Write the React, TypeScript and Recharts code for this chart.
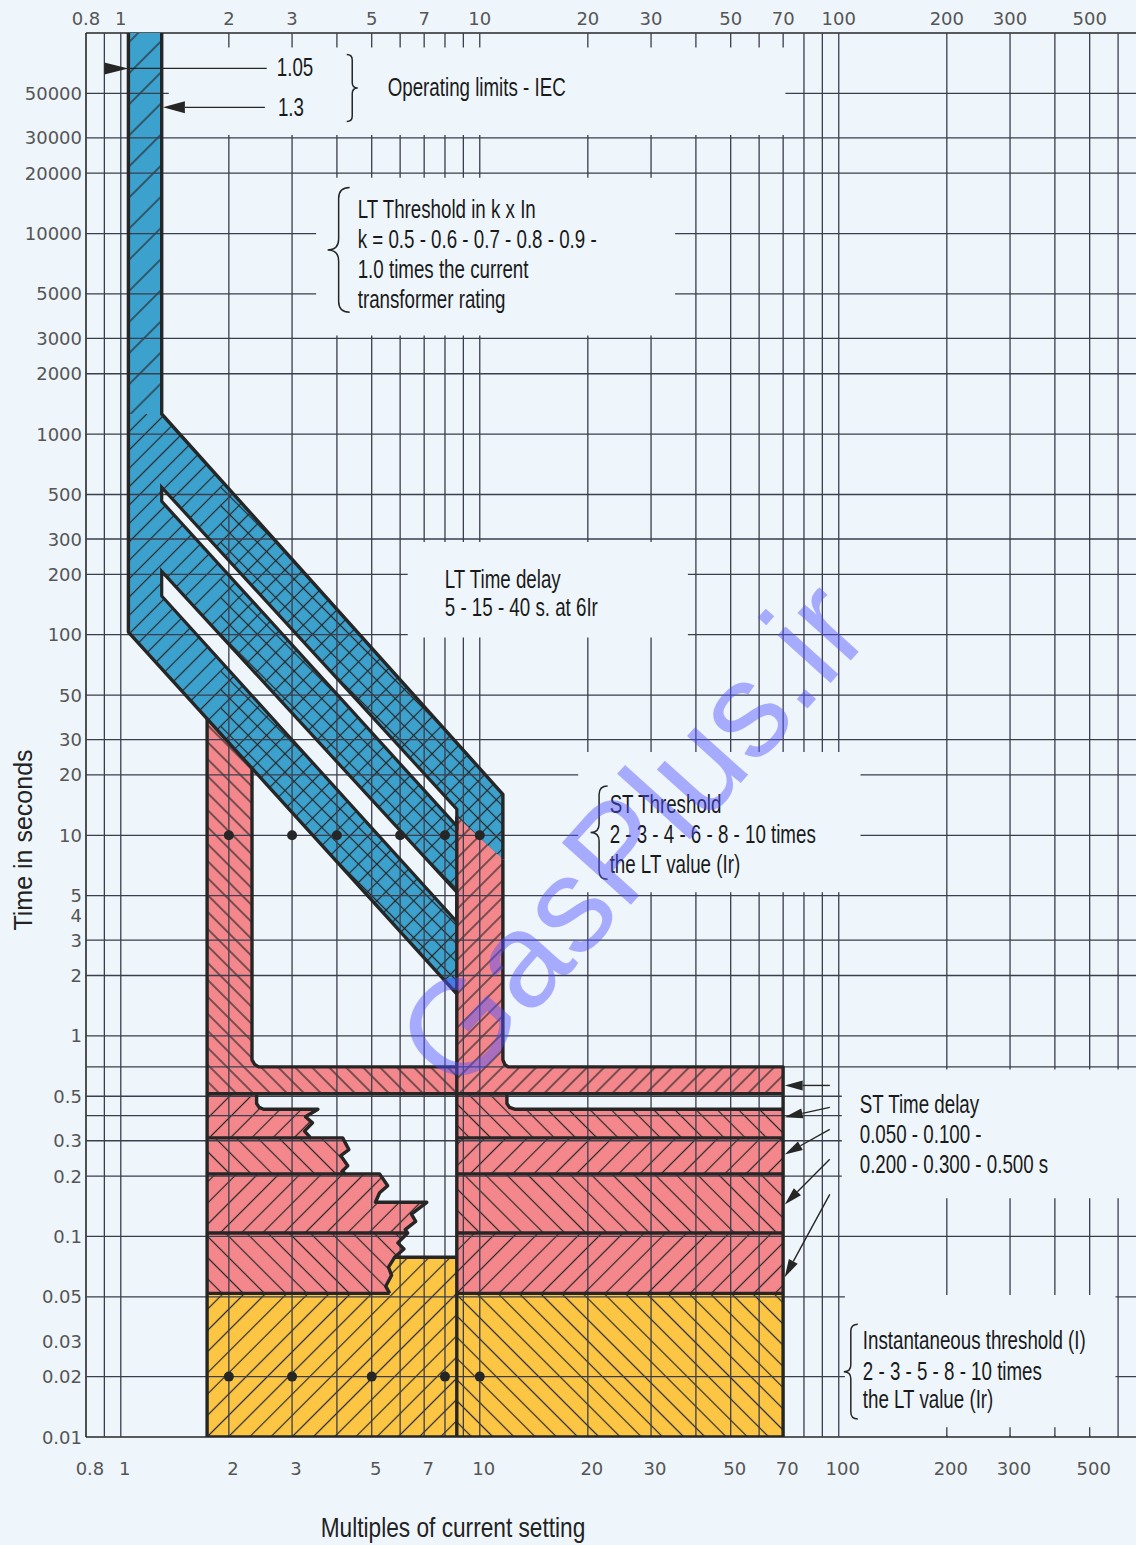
import React from 'react'
import { ComposedChart, XAxis, YAxis, Scatter } from 'recharts'

// Trip curve on log-log paper: LT band (blue), ST bands (red), instantaneous (yellow)

type Pt = { x: number; y: number }
const pts = (...xy: number[][]): Pt[] => xy.map(([x, y]) => ({ x, y }))

const W = 1136
const H = 1545

const PAPER = '#eff6fb'
const INK = '#262626'
const GRID = '#3b3e4c'
const RED = '#f4878b'
const BLUE = '#3ca1cd'
const YELLOW = '#fcc644'
const AXIS_FONT = "'DejaVu Sans', sans-serif"
const NOTE_FONT = "'Liberation Sans', Arial, sans-serif"

// ─── axes ────────────────────────────────────────────────────────────────
const X_DOMAIN: [number, number] = [0.8, 673]
const Y_DOMAIN: [number, number] = [0.01, 100000]
const X_TICKS = [0.8, 1, 2, 3, 5, 7, 10, 20, 30, 50, 70, 100, 200, 300, 500]
const Y_TICKS = [
  0.01, 0.02, 0.03, 0.05, 0.1, 0.2, 0.3, 0.5, 1, 2, 3, 4, 5, 10, 20, 30, 50, 100, 200, 300, 500,
  1000, 2000, 3000, 5000, 10000, 20000, 30000, 50000,
]
const X_GRID = [0.9, 1, 2, 3, 4, 5, 6, 7, 8, 9, 10, 20, 30, 40, 50, 60, 70, 80, 90, 100, 200, 300, 400, 500, 600]
const Y_GRID = [
  0.02, 0.05, 0.1, 0.2, 0.3, 0.4, 0.5, 0.7, 1, 2, 3, 5, 10, 20, 30, 50, 100, 200, 300, 500, 1000,
  2000, 3000, 5000, 10000, 20000, 30000, 50000,
]
const BOTTOM_STUBS = [200, 300, 400, 500]
// paper areas left free of grid around the notes: [x1, x2, y1, y2]
const BLANKS = [
  [1.36, 71, 31000, 84700],
  [3.5, 35, 3100, 19000],
  [6.3, 38, 97, 290],
  [18.8, 115, 5.2, 26],
  [102, 673, 0.155, 0.68],
  [104, 590, 0.0102, 0.051],
]

// ─── LT (long time) band ────────────────────────────────────────────────
const LT_STRIP = pts([1.05, 100000], [1.3, 100000], [1.3, 1260], [1.05, 1260])
const LT_SLOPE = pts([1.05, 1260], [1.3, 1260], [11.6, 16], [11.6, 7.6], [8.63, 12.4], [8.63, 1.62], [1.05, 103])
const LT_CROSS = pts([1.9, 596], [11.6, 16], [11.6, 7.6], [8.63, 12.4], [8.63, 1.62], [1.9, 31.9])
const LT_SLOT_1 = pts([1.3, 543], [8.63, 13.5], [8.63, 11.1], [1.3, 462])
const LT_SLOT_2 = pts([1.3, 207], [8.63, 5.2], [8.63, 3.7], [1.3, 156])
const LT_EDGE_R = pts([1.3, 100000], [1.3, 1260], [11.6, 16], [11.6, 7.6])
const LT_EDGE_L = pts([8.63, 1.62], [1.05, 103], [1.05, 100000])

// ─── ST (short time) bands, left of 10 Ir and right of it ───────────────
const ST_LEFT_A = pts([1.74, 45], [2.32, 45], [2.32, 0.76], [2.36, 0.72], [2.42, 0.7], [8.63, 0.7], [8.63, 0.515], [1.74, 0.515])
const ST_LEFT_B = pts([1.74, 0.515], [2.39, 0.515], [2.39, 0.46], [2.43, 0.44], [2.5, 0.431], [3.54, 0.431], [3.27, 0.395], [3.42, 0.368], [3.25, 0.335], [3.38, 0.31], [1.74, 0.31])
const ST_LEFT_C = pts([1.74, 0.31], [4.15, 0.31], [4.32, 0.271], [4.1, 0.253], [4.29, 0.225], [4.13, 0.211], [4.23, 0.205], [1.74, 0.205])
const ST_LEFT_D = pts([1.74, 0.205], [5.26, 0.205], [5.54, 0.179], [5.26, 0.165], [5.12, 0.148], [7.12, 0.148], [6.45, 0.129], [6.63, 0.119], [6.2, 0.108], [6.3, 0.104], [1.74, 0.104])
const ST_LEFT_E = pts([1.74, 0.104], [6.3, 0.104], [5.91, 0.0928], [6.15, 0.0866], [5.79, 0.0787], [5.57, 0.0702], [5.68, 0.064], [5.47, 0.0565], [5.61, 0.052], [1.74, 0.052])
const INST_LEFT = pts([1.74, 0.052], [5.61, 0.052], [5.47, 0.0565], [5.68, 0.064], [5.57, 0.0702], [5.79, 0.0787], [8.63, 0.0787], [8.63, 0.01], [1.74, 0.01])

const ST_RIGHT_A = pts([8.63, 16], [11.6, 16], [11.6, 0.76], [11.75, 0.72], [12, 0.7], [70, 0.7], [70, 0.515], [8.63, 0.515])
const ST_RIGHT_B = pts([8.63, 0.515], [11.9, 0.515], [11.9, 0.46], [12.1, 0.44], [12.5, 0.431], [70, 0.431], [70, 0.31], [8.63, 0.31])
const ST_RIGHT_C = pts([8.63, 0.31], [70, 0.31], [70, 0.205], [8.63, 0.205])
const ST_RIGHT_D = pts([8.63, 0.205], [70, 0.205], [70, 0.104], [8.63, 0.104])
const ST_RIGHT_E = pts([8.63, 0.104], [70, 0.104], [70, 0.052], [8.63, 0.052])
const INST_RIGHT = pts([8.63, 0.052], [70, 0.052], [70, 0.01], [8.63, 0.01])

const STAIR = pts(
  [2.39, 0.515], [2.39, 0.46], [2.43, 0.44], [2.5, 0.431], [3.54, 0.431], [3.27, 0.395], [3.42, 0.368],
  [3.25, 0.335], [3.38, 0.31], [4.15, 0.31], [4.32, 0.271], [4.1, 0.253], [4.29, 0.225], [4.13, 0.211],
  [4.23, 0.205], [5.26, 0.205], [5.54, 0.179], [5.26, 0.165], [5.12, 0.148], [7.12, 0.148], [6.45, 0.129],
  [6.63, 0.119], [6.2, 0.108], [6.3, 0.104], [5.91, 0.0928], [6.15, 0.0866], [5.79, 0.0787], [8.63, 0.0787],
)
const EDGES = [
  pts([1.74, 38], [1.74, 0.01]),
  pts([2.32, 21.6], [2.32, 0.76], [2.36, 0.72], [2.42, 0.7], [8.63, 0.7]),
  pts([1.74, 0.515], [70, 0.515]),
  STAIR,
  pts([5.79, 0.0787], [5.57, 0.0702], [5.68, 0.064], [5.47, 0.0565], [5.61, 0.052]),
  pts([1.74, 0.31], [3.38, 0.31]),
  pts([1.74, 0.205], [4.23, 0.205]),
  pts([1.74, 0.104], [6.3, 0.104]),
  pts([1.74, 0.052], [5.61, 0.052]),
  pts([8.63, 12.4], [8.63, 0.01]),
  pts([11.6, 7.6], [11.6, 0.76], [11.75, 0.72], [12, 0.7], [70, 0.7], [70, 0.01]),
  pts([11.9, 0.515], [11.9, 0.46], [12.1, 0.44], [12.5, 0.431], [70, 0.431]),
  pts([8.63, 0.31], [70, 0.31]),
  pts([8.63, 0.205], [70, 0.205]),
  pts([8.63, 0.104], [70, 0.104]),
  pts([8.63, 0.052], [70, 0.052]),
  pts([1.74, 0.01], [70, 0.01]),
  LT_EDGE_R,
  LT_EDGE_L,
]

// threshold markers
const ST_THRESHOLD_X = [2, 3, 4, 6, 8, 10]
const ST_DOT_TIME = 10
const INST_THRESHOLD_X = [2, 3, 5, 8, 10]
const INST_DOT_TIME = 0.02

// ─── annotations ────────────────────────────────────────────────────────
const IEC_LINE = pts([1.05, 66600], [2.55, 66600])
const IEC_ARROWS = [pts([0.9, 66600], [1.05, 66600]), pts([2.52, 42600], [1.31, 42600])]
const ST_DELAY_ARROWS = [
  pts([94.4, 0.566], [70.7, 0.566]),
  pts([94.4, 0.44], [70.7, 0.393]),
  pts([94.4, 0.342], [70.7, 0.256]),
  pts([94.4, 0.2426], [70.7, 0.1443]),
  pts([94.4, 0.162], [70.7, 0.0626]),
]
const BRACES = [
  { x: 4.26, top: 78200, bottom: 36200, dir: 1 },
  { x: 4.34, top: 16980, bottom: 4050, dir: -1 },
  { x: 22.7, top: 17.6, bottom: 6.04, dir: -1 },
  { x: 113, top: 0.0365, bottom: 0.01228, dir: -1 },
]
const NOTES = [
  { x: 2.72, y: 67300, t: '1.05' },
  { x: 2.74, y: 42600, t: '1.3' },
  { x: 5.54, y: 53600, t: 'Operating limits - IEC' },
  { x: 4.57, y: 13200, t: 'LT Threshold in k x In' },
  { x: 4.57, y: 9350, t: 'k = 0.5 - 0.6 - 0.7 - 0.8 - 0.9 -' },
  { x: 4.57, y: 6630, t: '1.0 times the current' },
  { x: 4.57, y: 4700, t: 'transformer rating' },
  { x: 7.99, y: 189, t: 'LT Time delay' },
  { x: 7.99, y: 137, t: '5 - 15 - 40 s. at 6Ir' },
  { x: 23, y: 14.3, t: 'ST Threshold' },
  { x: 23, y: 10.1, t: '2 - 3 - 4 - 6 - 8 - 10 times' },
  { x: 23, y: 7.17, t: 'the LT value (Ir)' },
  { x: 114.4, y: 0.456, t: 'ST Time delay' },
  { x: 114.4, y: 0.323, t: '0.050 - 0.100 -' },
  { x: 114.4, y: 0.229, t: '0.200 - 0.300 - 0.500 s' },
  { x: 116.7, y: 0.0301, t: 'Instantaneous threshold (I)' },
  { x: 116.7, y: 0.0213, t: '2 - 3 - 5 - 8 - 10 times' },
  { x: 116.7, y: 0.01545, t: 'the LT value (Ir)' },
]
const WATERMARK = [{ x: 26.5, y: 10.1, t: 'GasPlus.ir' }]

// tables built from the arrays above
const GRID_V = X_GRID.flatMap((x) => [{ x, y: Y_DOMAIN[0] }, { x, y: Y_DOMAIN[1] }])
const GRID_H = Y_GRID.flatMap((y) => [{ x: X_DOMAIN[0], y }, { x: X_DOMAIN[1], y }])
const STUBS = BOTTOM_STUBS.flatMap((x) => [{ x, y: 0.01 }, { x, y: 0.0112 }])
const BLANK_POLYS = BLANKS.map(([x1, x2, y1, y2]) => pts([x1, y1], [x2, y1], [x2, y2], [x1, y2]))
const ST_DOTS = ST_THRESHOLD_X.map((x) => ({ x, y: ST_DOT_TIME }))
const INST_DOTS = INST_THRESHOLD_X.map((x) => ({ x, y: INST_DOT_TIME }))

// ─── rendering helpers ───────────────────────────────────────────────────
const common = { xAxisId: 'b', yAxisId: 'y', isAnimationActive: false, lineType: 'joint' as const }
const noDot = () => <g />
const path = (p: Pt[], close = false) =>
  p.map((q, i) => (i ? 'L' : 'M') + q.x.toFixed(1) + ',' + q.y.toFixed(1)).join('') + (close ? 'Z' : '')

function region(key: string, data: Pt[], fill: string, hatch?: string, stroke?: string) {
  return (
    <Scatter
      key={key}
      data={data}
      {...common}
      shape={noDot}
      line={(lp: any) => (
        <g>
          <path d={path(lp.points, true)} fill={fill} stroke="none" />
          {hatch ? <path d={path(lp.points, true)} fill={`url(#${hatch})`} stroke="none" /> : null}
          {stroke ? <path d={path(lp.points, true)} fill="none" stroke={stroke} strokeWidth={3.2} /> : null}
        </g>
      )}
    />
  )
}

function edge(key: string, data: Pt[], width = 3.4) {
  return (
    <Scatter
      key={key}
      data={data}
      {...common}
      shape={noDot}
      line={(lp: any) => (
        <path d={path(lp.points)} fill="none" stroke={INK} strokeWidth={width} strokeLinejoin="round" />
      )}
    />
  )
}

function segments(key: string, data: Pt[], width: number, color: string) {
  return (
    <Scatter
      key={key}
      data={data}
      {...common}
      shape={noDot}
      line={(lp: any) => {
        let d = ''
        const p = lp.points
        for (let i = 0; i + 1 < p.length; i += 2) d += `M${p[i].x},${p[i].y}L${p[i + 1].x},${p[i + 1].y}`
        return <path d={d} fill="none" stroke={color} strokeWidth={width} />
      }}
    />
  )
}

function arrow(key: string, data: Pt[], len: number, half: number) {
  return (
    <Scatter
      key={key}
      data={data}
      {...common}
      shape={noDot}
      line={(lp: any) => {
        const [a, b] = lp.points
        const dx = b.x - a.x
        const dy = b.y - a.y
        const L = Math.hypot(dx, dy) || 1
        const ux = dx / L
        const uy = dy / L
        const bx = b.x - ux * len
        const by = b.y - uy * len
        return (
          <g>
            <path d={`M${a.x},${a.y}L${bx},${by}`} stroke={INK} strokeWidth={1.4} />
            <path
              d={`M${b.x},${b.y}L${bx - uy * half},${by + ux * half}L${bx + uy * half},${by - ux * half}Z`}
              fill={INK}
            />
          </g>
        )
      }}
    />
  )
}

function brace(key: string, b: { x: number; top: number; bottom: number; dir: number }, w: number) {
  return (
    <Scatter
      key={key}
      data={pts([b.x, b.top], [b.x, b.bottom])}
      {...common}
      shape={noDot}
      line={(lp: any) => {
        const [p, q] = lp.points
        const x = p.x
        const y1 = p.y
        const y2 = q.y
        const m = (y1 + y2) / 2
        const h = w / 2
        const xm = x + b.dir * h
        const xt = x + b.dir * w
        const d = `M${x},${y1} Q${xm},${y1} ${xm},${y1 + h} L${xm},${m - h} Q${xm},${m} ${xt},${m} Q${xm},${m} ${xm},${m + h} L${xm},${y2 - h} Q${xm},${y2} ${x},${y2}`
        return <path d={d} fill="none" stroke={INK} strokeWidth={1.5} />
      }}
    />
  )
}

function Hatches() {
  const defs: [string, number, number][] = [
    ['fwd22', 45, 22],
    ['fwd13', 45, 13],
    ['back13', -45, 13],
    ['fwd12', 45, 12],
    ['back12', -45, 12],
    ['fwd15', 45, 15],
    ['back15', -45, 15],
  ]
  return (
    <svg width={0} height={0} style={{ position: 'absolute' }}>
      <defs>
        {defs.map(([id, a, s]) => (
          <pattern key={id} id={id} width={s} height={s} patternUnits="userSpaceOnUse" patternTransform={`rotate(${a})`}>
            <line x1={s / 2} y1={0} x2={s / 2} y2={s} stroke={INK} strokeWidth={1.2} />
          </pattern>
        ))}
      </defs>
    </svg>
  )
}

const tickStyle = { fontFamily: AXIS_FONT, fontSize: 18, fill: '#555' }

export default function App() {
  return (
    <div style={{ position: 'absolute', left: 0, top: 0, width: W, height: H, background: PAPER }}>
      <Hatches />
      <ComposedChart width={W} height={H} margin={{ top: 0, right: 0, bottom: 0, left: 0 }}>
        <XAxis
          xAxisId="t"
          orientation="top"
          type="number"
          dataKey="x"
          scale="log"
          domain={X_DOMAIN}
          allowDataOverflow
          ticks={X_TICKS}
          interval={0}
          height={33}
          tickSize={0}
          tickMargin={0}
          tickLine={false}
          axisLine={{ stroke: INK, strokeWidth: 1.6 }}
          tick={(p: any) => (
            <text x={p.x} y={p.y - 15} textAnchor="middle" dominantBaseline="central" {...tickStyle}>
              {String(p.payload.value)}
            </text>
          )}
        />
        <XAxis
          xAxisId="b"
          orientation="bottom"
          type="number"
          dataKey="x"
          scale="log"
          domain={X_DOMAIN}
          allowDataOverflow
          ticks={X_TICKS}
          interval={0}
          height={108}
          tickSize={0}
          tickMargin={0}
          tickLine={false}
          axisLine={{ stroke: INK, strokeWidth: 1.6 }}
          tick={(p: any) => (
            <text x={p.x + 4} y={p.y + 31} textAnchor="middle" dominantBaseline="central" {...tickStyle}>
              {String(p.payload.value)}
            </text>
          )}
          label={() => (
            <text
              transform="translate(453,1527) scale(0.84,1)"
              textAnchor="middle"
              dominantBaseline="central"
              fontFamily={NOTE_FONT}
              fontSize={27}
              fill="#222"
            >
              Multiples of current setting
            </text>
          )}
        />
        <YAxis
          yAxisId="y"
          type="number"
          dataKey="y"
          scale="log"
          domain={Y_DOMAIN}
          allowDataOverflow
          ticks={Y_TICKS}
          interval={0}
          width={86}
          tickSize={0}
          tickMargin={4}
          tickLine={false}
          axisLine={{ stroke: INK, strokeWidth: 1.6 }}
          tick={(p: any) => (
            <text x={p.x} y={p.y} textAnchor="end" dominantBaseline="central" {...tickStyle}>
              {String(p.payload.value)}
            </text>
          )}
          label={() => (
            <text
              transform="translate(23,840) rotate(-90)"
              textAnchor="middle"
              dominantBaseline="central"
              fontFamily={NOTE_FONT}
              fontSize={25}
              fill="#222"
            >
              Time in seconds
            </text>
          )}
        />

        {/* ST bands, left side */}
        {region('sla', ST_LEFT_A, RED, 'back12')}
        {region('slb', ST_LEFT_B, RED, 'fwd15')}
        {region('slc', ST_LEFT_C, RED, 'back15')}
        {region('sld', ST_LEFT_D, RED, 'fwd15')}
        {region('sle', ST_LEFT_E, RED, 'back15')}
        {region('inl', INST_LEFT, YELLOW, 'fwd15')}
        {/* ST bands, right side */}
        {region('sra', ST_RIGHT_A, RED, 'fwd12')}
        {region('srb', ST_RIGHT_B, RED, 'back15')}
        {region('src', ST_RIGHT_C, RED, 'fwd15')}
        {region('srd', ST_RIGHT_D, RED, 'back15')}
        {region('sre', ST_RIGHT_E, RED, 'fwd15')}
        {region('inr', INST_RIGHT, YELLOW, 'back15')}
        {/* LT band */}
        {region('lts', LT_STRIP, BLUE, 'fwd22')}
        {region('ltd', LT_SLOPE, BLUE, 'fwd13')}
        {region('ltx', LT_CROSS, 'none', 'back13')}
        {region('slot1', LT_SLOT_1, PAPER)}
        {region('slot2', LT_SLOT_2, PAPER)}

        {/* paper grid */}
        {segments('gv', GRID_V, 1.3, GRID)}
        {segments('gh', GRID_H, 1.3, GRID)}
        {BLANK_POLYS.map((b, i) => region(`blank${i}`, b, PAPER))}
        {segments('stub', STUBS, 1.3, GRID)}

        {/* outlines */}
        {EDGES.map((e, i) => edge(`e${i}`, e))}
        {region('slot1o', LT_SLOT_1, 'none', undefined, INK)}
        {region('slot2o', LT_SLOT_2, 'none', undefined, INK)}

        {/* threshold dots */}
        <Scatter data={ST_DOTS} {...common} shape={(p: any) => <circle cx={p.cx} cy={p.cy} r={5} fill={INK} />} />
        <Scatter data={INST_DOTS} {...common} shape={(p: any) => <circle cx={p.cx} cy={p.cy} r={5} fill={INK} />} />

        {/* arrows and braces */}
        {edge('iecline', IEC_LINE, 1.4)}
        {arrow('iec0', IEC_ARROWS[0], 24, 6)}
        {arrow('iec1', IEC_ARROWS[1], 22, 6)}
        {ST_DELAY_ARROWS.map((a, i) => arrow(`sta${i}`, a, 18, 5))}
        {brace('br0', BRACES[0], 11)}
        {brace('br1', BRACES[1], 22)}
        {brace('br2', BRACES[2], 17)}
        {brace('br3', BRACES[3], 14)}

        {/* notes, condensed like the original typeface */}
        <Scatter
          data={NOTES}
          {...common}
          shape={(p: any) => (
            <text
              transform={`translate(${p.cx},${p.cy}) scale(0.75,1)`}
              dominantBaseline="central"
              fontFamily={NOTE_FONT}
              fontSize={25}
              fill="#1a1a1a"
            >
              {p.payload.t}
            </text>
          )}
        />
        <Scatter
          data={WATERMARK}
          {...common}
          shape={(p: any) => (
            <text
              transform={`translate(${p.cx},${p.cy}) rotate(-48)`}
              textAnchor="middle"
              dominantBaseline="central"
              fontFamily={NOTE_FONT}
              fontSize={135}
              fill="rgba(80,80,255,0.45)"
            >
              {p.payload.t}
            </text>
          )}
        />
      </ComposedChart>
    </div>
  )
}
